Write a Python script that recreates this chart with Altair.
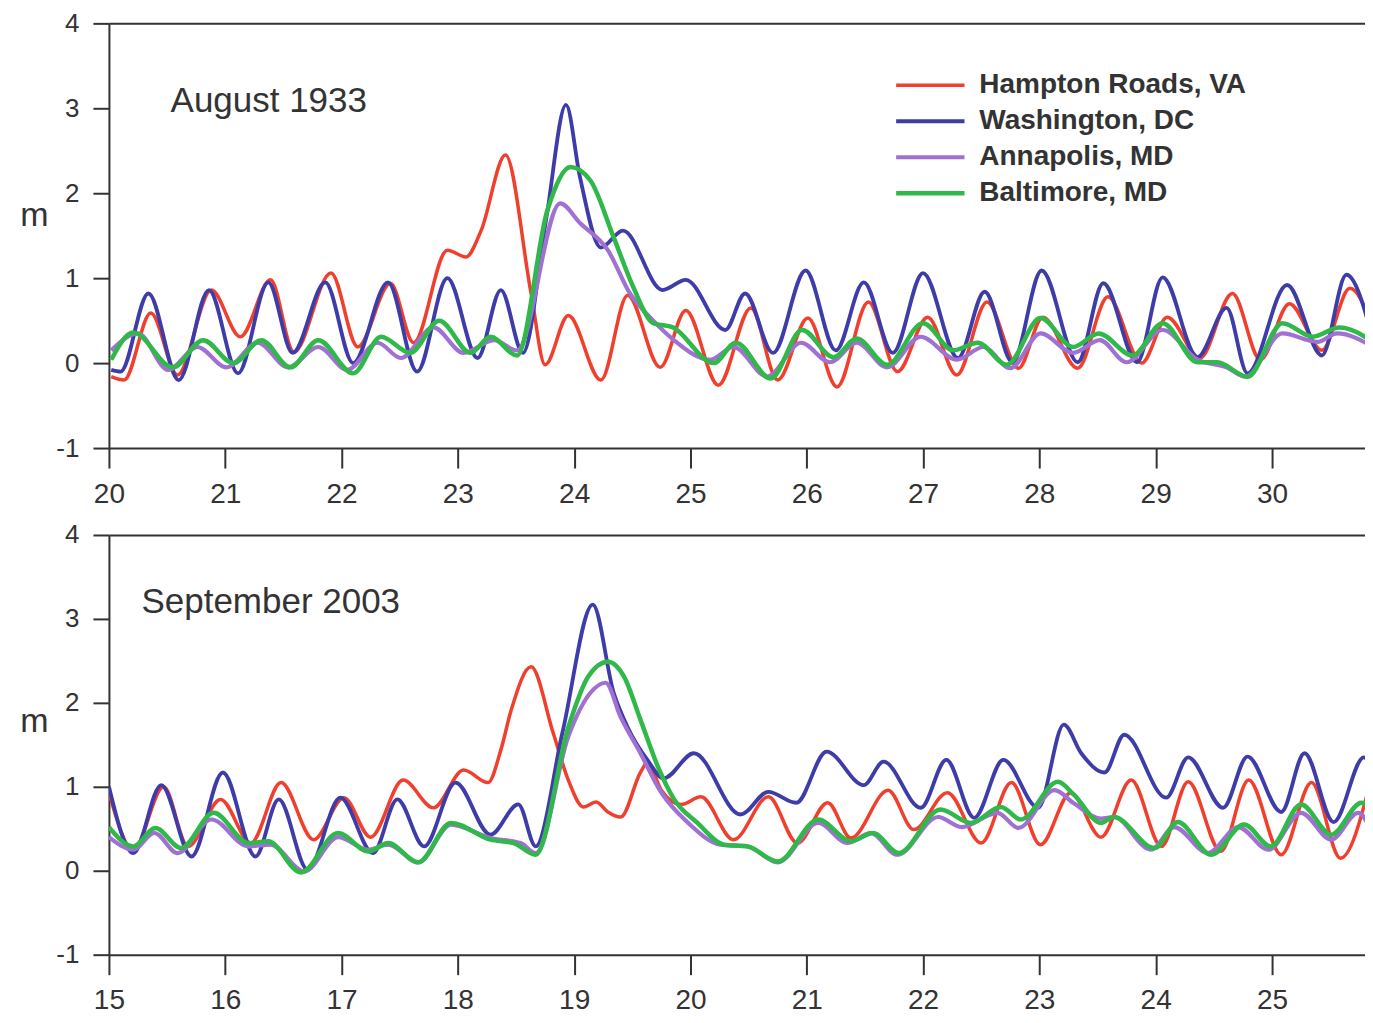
import altair as alt
import pandas as pd

STATIONS = ["Hampton Roads, VA", "Washington, DC", "Annapolis, MD", "Baltimore, MD"]
COLORS = ["#f03f2c", "#3d3ca8", "#a070d2", "#30b84a"]
WIDTHS = [3.5, 4.5, 3.5, 4.0]

# ---------------- August 1933 ----------------
aug_hampton_day = [20.02, 20.13, 20.36, 20.59, 20.88, 21.13, 21.39, 21.59, 21.91, 22.14,
                   22.42, 22.62, 22.91, 23.07, 23.20, 23.41, 23.63, 23.75, 23.95, 24.23,
                   24.46, 24.74, 24.96, 25.24, 25.52, 25.75, 26.01, 26.26, 26.53, 26.78,
                   27.04, 27.29, 27.55, 27.82, 28.03, 28.33, 28.59, 28.88, 29.10, 29.38,
                   29.66, 29.90, 30.15, 30.43, 30.67, 30.87]
aug_hampton_m = [-0.16, -0.2, 0.59, -0.14, 0.86, 0.31, 0.98, 0.13, 1.06, 0.19,
                 0.94, 0.24, 1.33, 1.25, 1.56, 2.45, 0.82, -0.02, 0.56, -0.2,
                 0.8, -0.05, 0.62, -0.26, 0.65, -0.2, 0.53, -0.28, 0.72, -0.1,
                 0.54, -0.14, 0.72, -0.06, 0.54, -0.06, 0.78, 0.0, 0.54, 0.06,
                 0.82, 0.04, 0.7, 0.15, 0.88, 0.42]

aug_washington_day = [20.02, 20.10, 20.34, 20.60, 20.86, 21.11, 21.37, 21.58, 21.86, 22.10,
                      22.40, 22.65, 22.91, 23.17, 23.37, 23.56, 23.76, 23.93, 24.05, 24.23, 24.42,
                      24.76, 24.96, 25.30, 25.47, 25.71, 25.99, 26.25, 26.49, 26.74, 27.00,
                      27.30, 27.53, 27.77, 28.02, 28.33, 28.55, 28.84, 29.06, 29.36, 29.61,
                      29.79, 30.13, 30.43, 30.64, 30.87]
aug_washington_m = [-0.08, -0.1, 0.82, -0.2, 0.86, -0.12, 0.95, 0.12, 0.95, 0.0,
                    0.95, -0.1, 1.0, 0.06, 0.86, 0.12, 1.7, 3.04, 2.19, 1.36, 1.56,
                    0.86, 0.98, 0.39, 0.82, 0.12, 1.09, 0.15, 0.95, 0.12, 1.06,
                    0.06, 0.84, 0.01, 1.09, 0.01, 0.94, 0.01, 1.01, 0.07, 0.65,
                    -0.12, 0.92, 0.09, 1.04, 0.27]

aug_annapolis_day = [20.02, 20.25, 20.51, 20.76, 21.01, 21.28, 21.54, 21.80, 22.05, 22.31,
                     22.51, 22.79, 23.05, 23.31, 23.51, 23.88, 24.05, 24.29, 24.48, 24.68, 24.85,
                     25.17, 25.37, 25.66, 25.95, 26.20, 26.43, 26.69, 26.98, 27.29, 27.52,
                     27.75, 28.01, 28.29, 28.52, 28.75, 29.06, 29.36, 29.61, 29.77, 30.09,
                     30.39, 30.56, 30.87]
aug_annapolis_m = [0.15, 0.35, -0.08, 0.19, -0.05, 0.24, -0.05, 0.19, -0.08, 0.24,
                   0.06, 0.42, 0.12, 0.27, 0.15, 1.88, 1.65, 1.33, 0.82, 0.5, 0.28,
                   0.04, 0.19, -0.16, 0.24, 0.01, 0.24, -0.05, 0.31, 0.04, 0.19,
                   -0.06, 0.35, 0.12, 0.27, 0.01, 0.39, 0.04, -0.05, -0.16, 0.35,
                   0.25, 0.35, 0.19]

aug_baltimore_day = [20.02, 20.21, 20.55, 20.81, 21.07, 21.31, 21.56, 21.80, 22.10, 22.34,
                     22.59, 22.84, 23.11, 23.28, 23.51, 23.77, 23.97, 24.14, 24.34, 24.51,
                     24.68, 24.85, 25.20, 25.39, 25.69, 25.96, 26.23, 26.43, 26.69, 27.00,
                     27.26, 27.47, 27.72, 28.01, 28.29, 28.51, 28.80, 29.06, 29.36, 29.53,
                     29.79, 30.09, 30.35, 30.58, 30.87]
aug_baltimore_m = [0.04, 0.36, -0.05, 0.27, 0.0, 0.27, -0.05, 0.27, -0.12, 0.31,
                   0.12, 0.5, 0.12, 0.31, 0.09, 1.8, 2.31, 2.15, 1.48, 0.89,
                   0.47, 0.42, 0.0, 0.24, -0.18, 0.39, 0.07, 0.29, -0.02, 0.47,
                   0.15, 0.24, -0.02, 0.53, 0.19, 0.35, 0.09, 0.47, 0.01, 0.01,
                   -0.16, 0.47, 0.31, 0.42, 0.25]

# ---------------- September 2003 ----------------
sep_hampton_day = [15.0, 15.21, 15.47, 15.68, 15.96, 16.22, 16.48, 16.76, 17.02, 17.25,
                   17.53, 17.79, 18.05, 18.26, 18.37, 18.46, 18.63, 18.82, 18.95, 19.08,
                   19.19, 19.29, 19.40, 19.57, 19.63, 19.75, 19.92, 20.09, 20.37, 20.67,
                   20.92, 21.18, 21.38, 21.70, 21.92, 22.21, 22.50, 22.76, 23.01, 23.27,
                   23.53, 23.79, 24.05, 24.28, 24.56, 24.80, 25.08, 25.34, 25.59, 25.85]
sep_hampton_m = [0.93, 0.25, 1.0, 0.29, 0.85, 0.33, 1.05, 0.37, 0.87, 0.4,
                 1.08, 0.75, 1.2, 1.05, 1.44, 1.92, 2.43, 1.64, 1.08, 0.76,
                 0.82, 0.7, 0.64, 1.17, 1.29, 0.96, 0.79, 0.88, 0.37, 0.88,
                 0.33, 0.81, 0.39, 0.96, 0.49, 0.93, 0.33, 1.05, 0.31, 0.93,
                 0.4, 1.08, 0.29, 1.06, 0.23, 1.08, 0.19, 1.05, 0.15, 1.08]

sep_washington_day = [15.0, 15.21, 15.45, 15.71, 15.98, 16.26, 16.46, 16.71, 16.99, 17.27,
                      17.48, 17.71, 17.98, 18.28, 18.52, 18.67, 18.90, 19.16, 19.34, 19.46, 19.63,
                      19.77, 20.03, 20.43, 20.67, 20.91, 21.17, 21.49, 21.66, 21.98, 22.20,
                      22.44, 22.69, 22.99, 23.21, 23.36, 23.56, 23.73, 24.09, 24.28, 24.58,
                      24.79, 25.08, 25.28, 25.53, 25.79, 25.88]
sep_washington_m = [1.0, 0.21, 1.02, 0.17, 1.17, 0.17, 0.85, 0.01, 0.87, 0.21,
                    0.85, 0.29, 1.05, 0.43, 0.79, 0.29, 1.65, 3.17, 2.12, 1.71, 1.32,
                    1.1, 1.4, 0.67, 0.94, 0.81, 1.42, 1.02, 1.3, 0.75, 1.32,
                    0.63, 1.32, 0.75, 1.74, 1.4, 1.17, 1.62, 0.87, 1.35, 0.75,
                    1.36, 0.7, 1.4, 0.58, 1.35, 1.17]

sep_annapolis_day = [15.0, 15.21, 15.39, 15.59, 15.88, 16.20, 16.39, 16.68, 16.97, 17.23,
                     17.40, 17.66, 17.94, 18.28, 18.54, 18.67, 18.95, 19.14, 19.27, 19.40,
                     19.57, 19.75, 19.98, 20.26, 20.49, 20.75, 21.10, 21.35, 21.55, 21.78,
                     22.13, 22.33, 22.64, 22.82, 23.13, 23.30, 23.53, 23.64, 23.96, 24.16,
                     24.45, 24.71, 24.97, 25.25, 25.51, 25.74, 25.88]
sep_annapolis_m = [0.4, 0.25, 0.45, 0.21, 0.61, 0.29, 0.31, -0.01, 0.4, 0.25,
                   0.31, 0.1, 0.55, 0.39, 0.33, 0.21, 1.6, 2.12, 2.24, 1.83,
                   1.4, 0.93, 0.57, 0.31, 0.29, 0.1, 0.57, 0.33, 0.45, 0.19,
                   0.64, 0.52, 0.69, 0.51, 0.96, 0.8, 0.62, 0.64, 0.25, 0.52,
                   0.21, 0.52, 0.25, 0.69, 0.37, 0.69, 0.4]

sep_baltimore_day = [15.0, 15.21, 15.40, 15.62, 15.90, 16.20, 16.37, 16.65, 16.97, 17.23,
                     17.40, 17.66, 17.94, 18.28, 18.48, 18.67, 18.95, 19.12, 19.29, 19.43,
                     19.57, 19.72, 19.86, 20.06, 20.29, 20.49, 20.75, 21.10, 21.38, 21.57,
                     21.79, 22.15, 22.41, 22.67, 22.84, 23.16, 23.30, 23.53, 23.64, 23.99,
                     24.19, 24.48, 24.76, 24.99, 25.25, 25.51, 25.77, 25.88]
sep_baltimore_m = [0.52, 0.29, 0.51, 0.27, 0.69, 0.33, 0.35, -0.02, 0.45, 0.23,
                   0.33, 0.1, 0.57, 0.37, 0.33, 0.19, 1.71, 2.31, 2.49, 2.31,
                   1.8, 1.24, 0.85, 0.57, 0.31, 0.29, 0.11, 0.61, 0.35, 0.45,
                   0.21, 0.73, 0.57, 0.76, 0.61, 1.06, 0.9, 0.57, 0.64, 0.27,
                   0.58, 0.19, 0.55, 0.29, 0.79, 0.43, 0.81, 0.64]

# panel labels and axes
aug_label = ["August 1933"]
aug_label_day = [20.53]
aug_label_m = [3.09]
sep_label = ["September 2003"]
sep_label_day = [15.28]
sep_label_m = [3.2]

aug_ticks = list(range(20, 31))
sep_ticks = list(range(15, 26))
aug_domain = [20, 30.8]
sep_domain = [15, 25.8]
y_ticks = [-1, 0, 1, 2, 3, 4]

FONT = "Liberation Sans"
INK = "#333333"


def long_frame(series):
    rows = []
    for station, days, levels in series:
        for d, v in zip(days, levels):
            rows.append({"station": station, "day": d, "level": v})
    return pd.DataFrame(rows)


aug_df = long_frame([
    (STATIONS[0], aug_hampton_day, aug_hampton_m),
    (STATIONS[1], aug_washington_day, aug_washington_m),
    (STATIONS[2], aug_annapolis_day, aug_annapolis_m),
    (STATIONS[3], aug_baltimore_day, aug_baltimore_m),
])
sep_df = long_frame([
    (STATIONS[0], sep_hampton_day, sep_hampton_m),
    (STATIONS[1], sep_washington_day, sep_washington_m),
    (STATIONS[2], sep_annapolis_day, sep_annapolis_m),
    (STATIONS[3], sep_baltimore_day, sep_baltimore_m),
])
aug_lab_df = pd.DataFrame({"day": aug_label_day, "level": aug_label_m, "label": aug_label})
sep_lab_df = pd.DataFrame({"day": sep_label_day, "level": sep_label_m, "label": sep_label})

W = 1257


def panel(df, lab_df, domain, ticks, height, title_y, with_legend):
    xscale = alt.Scale(domain=domain, nice=False, zero=False)
    yscale = alt.Scale(domain=[-1, 4], nice=False, zero=False)
    yaxis = alt.Axis(values=y_ticks, labelExpr="'' + datum.value", title="m", titleAngle=0,
                     titleX=-75, titleY=title_y, titleAlign="center",
                     titleBaseline="middle", titleFontSize=34,
                     titleFontWeight="normal", titleFont=FONT, titleColor=INK,
                     labelFontSize=26, labelFont=FONT, labelColor=INK,
                     labelPadding=14, tickSize=16, tickWidth=2, tickColor=INK,
                     domainWidth=2, domainColor=INK, grid=False)
    y = alt.Y("level:Q", scale=yscale, axis=yaxis)
    x_bottom = alt.X("day:Q", scale=xscale,
                     axis=alt.Axis(values=ticks, format="d", title=None, orient="bottom",
                                   labelFontSize=28, labelFont=FONT, labelColor=INK,
                                   labelPadding=12, tickSize=20, tickWidth=2,
                                   tickColor=INK, domainWidth=2, domainColor=INK,
                                   grid=False, labelFlush=False))
    x_top = alt.X("day:Q", scale=xscale,
                  axis=alt.Axis(orient="top", labels=False, ticks=False, title=None,
                                domainWidth=2, domainColor=INK, grid=False))
    if with_legend:
        legend = alt.Legend(orient="none", legendX=808, legendY=48, title=None,
                            symbolType="M-3.8,0H3.8", symbolSize=324,
                            symbolStrokeWidth=3.5, labelFontSize=28,
                            labelFontWeight="bold", labelFont=FONT, labelColor=INK,
                            labelOffset=35, rowPadding=8, padding=0,
                            labelLimit=400)
    else:
        legend = None
    color = alt.Color("station:N", scale=alt.Scale(domain=STATIONS, range=COLORS),
                      legend=legend)
    lines = alt.Chart(df).mark_line(interpolate="monotone", clip=True).encode(
        x=x_bottom, y=y, color=color,
        strokeWidth=alt.StrokeWidth("station:N",
                                    scale=alt.Scale(domain=STATIONS, range=WIDTHS),
                                    legend=None),
        order=alt.Order("day:Q"),
    )
    text = alt.Chart(lab_df).mark_text(align="left", baseline="middle", fontSize=35,
                                       font=FONT, color=INK).encode(
        x=x_top, y=y, text="label:N")
    return alt.layer(lines, text).resolve_axis(x="independent").properties(
        width=W, height=height)


top = panel(aug_df, aug_lab_df, aug_domain, aug_ticks, 425, 192, True)
bottom = panel(sep_df, sep_lab_df, sep_domain, sep_ticks, 420, 187, False)

chart = alt.vconcat(top, bottom, spacing=14).resolve_legend(
    color="independent", strokeWidth="independent").properties(
    padding={"left": 11, "top": 2, "right": 0, "bottom": 0},
    background="white",
).configure_view(stroke=None)

chart.save("out.html", embed_options={"renderer": "svg", "actions": False})
